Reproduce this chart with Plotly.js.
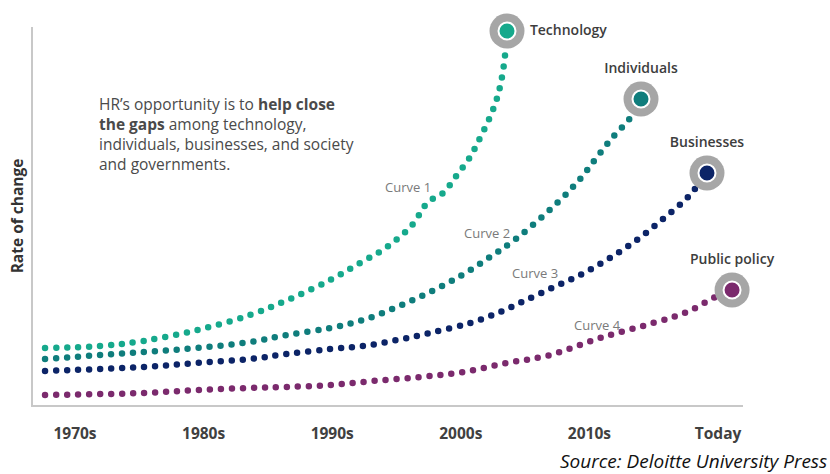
<!DOCTYPE html>
<html>
<head>
<meta charset="utf-8">
<script src="https://cdn.plot.ly/plotly-3.0.1.min.js"></script>
<style>
  html, body { margin: 0; padding: 0; background: #fff; }
  #chart { width: 830px; height: 474px; }
  .js-line { stroke-linecap: round !important; }
</style>
</head>
<body>
<div id="chart"></div>
<script>
// Decade positions (0 = 1970s ... 5 = Today)
const tickVals = [0, 1, 2, 3, 4, 5];
const tickLabels = ["1970s", "1980s", "1990s", "2000s", "2010s", "Today"];

const seriesNames = ["Technology", "Individuals", "Businesses", "Public policy"];
const curveLabels = ["Curve 1", "Curve 2", "Curve 3", "Curve 4"];

// Curve 1 – Technology
const c1X = [-0.233, 0.194, 0.529, 0.949, 1.361, 1.672, 1.983, 2.216, 2.426, 2.621, 2.745, 2.862, 2.970, 3.072, 3.149, 3.227, 3.282, 3.320, 3.344, 3.359];
const c1Y = [57, 59, 64, 75, 90, 106, 125, 142, 158, 180, 203, 212, 230, 248, 267, 288, 307, 328, 350, 374];
// Curve 2 – Individuals
const c2X = [-0.233, 0.529, 0.949, 1.361, 1.649, 1.983, 2.240, 2.504, 2.760, 3.009, 3.227, 3.437, 3.748, 3.927, 4.059, 4.183, 4.316, 4.401];
const c2Y = [46, 53, 57, 63, 70, 77, 85, 98, 113, 130, 148, 167, 202, 226, 248, 268, 287, 306];
// Curve 3 – Businesses
const c3X = [-0.233, 0.529, 0.949, 1.361, 1.649, 1.983, 2.240, 2.504, 2.760, 3.072, 3.305, 3.476, 3.709, 3.942, 4.160, 4.378, 4.572, 4.767, 4.914];
const c3Y = [34, 38, 42, 46, 51, 56, 59, 65, 72, 82, 93, 103, 117, 131, 147, 166, 186, 208, 232];
// Curve 4 – Public policy
const c4X = [-0.233, 0.529, 0.949, 1.361, 1.649, 1.983, 2.317, 2.683, 3.017, 3.359, 3.694, 4.082, 4.495, 4.759, 4.977, 5.109];
const c4Y = [10, 12, 15, 17, 18, 20, 24, 28, 33, 42, 50, 67, 82, 93, 108, 115];

const colors = ["#16a98c", "#0f7d7c", "#0c2467", "#7b2a6d"];
const xs = [c1X, c2X, c3X, c4X];
const ys = [c1Y, c2Y, c3Y, c4Y];

const traces = [];
xs.forEach((x, i) => {
  traces.push({
    type: "scatter", mode: "lines", x: x, y: ys[i],
    line: { color: colors[i], width: 6.5, dash: "0px,11px", shape: "spline", smoothing: 1 },
    cliponaxis: false, hoverinfo: "skip", showlegend: false
  });
});

const endX = xs.map(a => a[a.length - 1]);
const endY = ys.map(a => a[a.length - 1]);

traces.push({
  type: "scatter", mode: "markers+text", x: endX, y: endY,
  marker: { size: 35, color: "#a6a6a6" },
  text: seriesNames,
  textposition: ["middle right", "top center", "top center", "top center"],
  textfont: { family: "Open Sans", size: 14, color: "#3d3d3d", weight: 600 },
  cliponaxis: false, hoverinfo: "skip", showlegend: false
});
traces.push({
  type: "scatter", mode: "markers", x: endX, y: endY,
  marker: { size: 17, color: colors, line: { color: "#ffffff", width: 2 } },
  cliponaxis: false, hoverinfo: "skip", showlegend: false
});

const curveLabelPos = [[2.59, 218], [3.204, 172], [3.577, 132], [4.059, 80]];

const annotations = curveLabels.map((t, i) => ({
  text: t, x: curveLabelPos[i][0], y: curveLabelPos[i][1], xref: "x", yref: "y",
  showarrow: false, font: { family: "Open Sans", size: 13, color: "#7a7a7a" }
}));
annotations.push({
  text: "HR’s opportunity is to <b>help close</b><br><b>the gaps</b> among technology,<br>individuals, businesses, and society<br>and governments.",
  x: 0.17, y: 314, xref: "x", yref: "y", xanchor: "left", yanchor: "top", align: "left",
  showarrow: false, font: { family: "Open Sans", size: 15.5, color: "#4a4a4a" }
});
annotations.push({
  text: "<i>Source: Deloitte University Press</i>",
  x: 1.121, y: -0.148, xref: "paper", yref: "paper", xanchor: "right", yanchor: "middle",
  showarrow: false, font: { family: "Open Sans", size: 19, color: "#111111" }
});

const layout = {
  width: 830, height: 474,
  margin: { l: 33, r: 87, t: 27, b: 69, pad: 0 },
  paper_bgcolor: "#ffffff", plot_bgcolor: "#ffffff",
  showlegend: false,
  xaxis: {
    range: [-0.3266, 5.194], showgrid: false, zeroline: false,
    showline: true, linecolor: "#c8c8c8", linewidth: 2,
    tickvals: tickVals, ticktext: tickLabels, ticks: "",
    ticklabelstandoff: 13,
    tickfont: { family: "Open Sans", size: 15.5, color: "#404040", weight: "bold" },
    fixedrange: true
  },
  yaxis: {
    range: [0, 378], showgrid: false, zeroline: false,
    showline: true, linecolor: "#c8c8c8", linewidth: 2,
    showticklabels: false, ticks: "",
    title: { text: "Rate of change", standoff: 4,
      font: { family: "Open Sans", size: 15.5, color: "#333333", weight: "bold" } },
    fixedrange: true
  },
  annotations: annotations
};

Plotly.newPlot("chart", traces, layout, { displayModeBar: false, staticPlot: true });
</script>
</body>
</html>
